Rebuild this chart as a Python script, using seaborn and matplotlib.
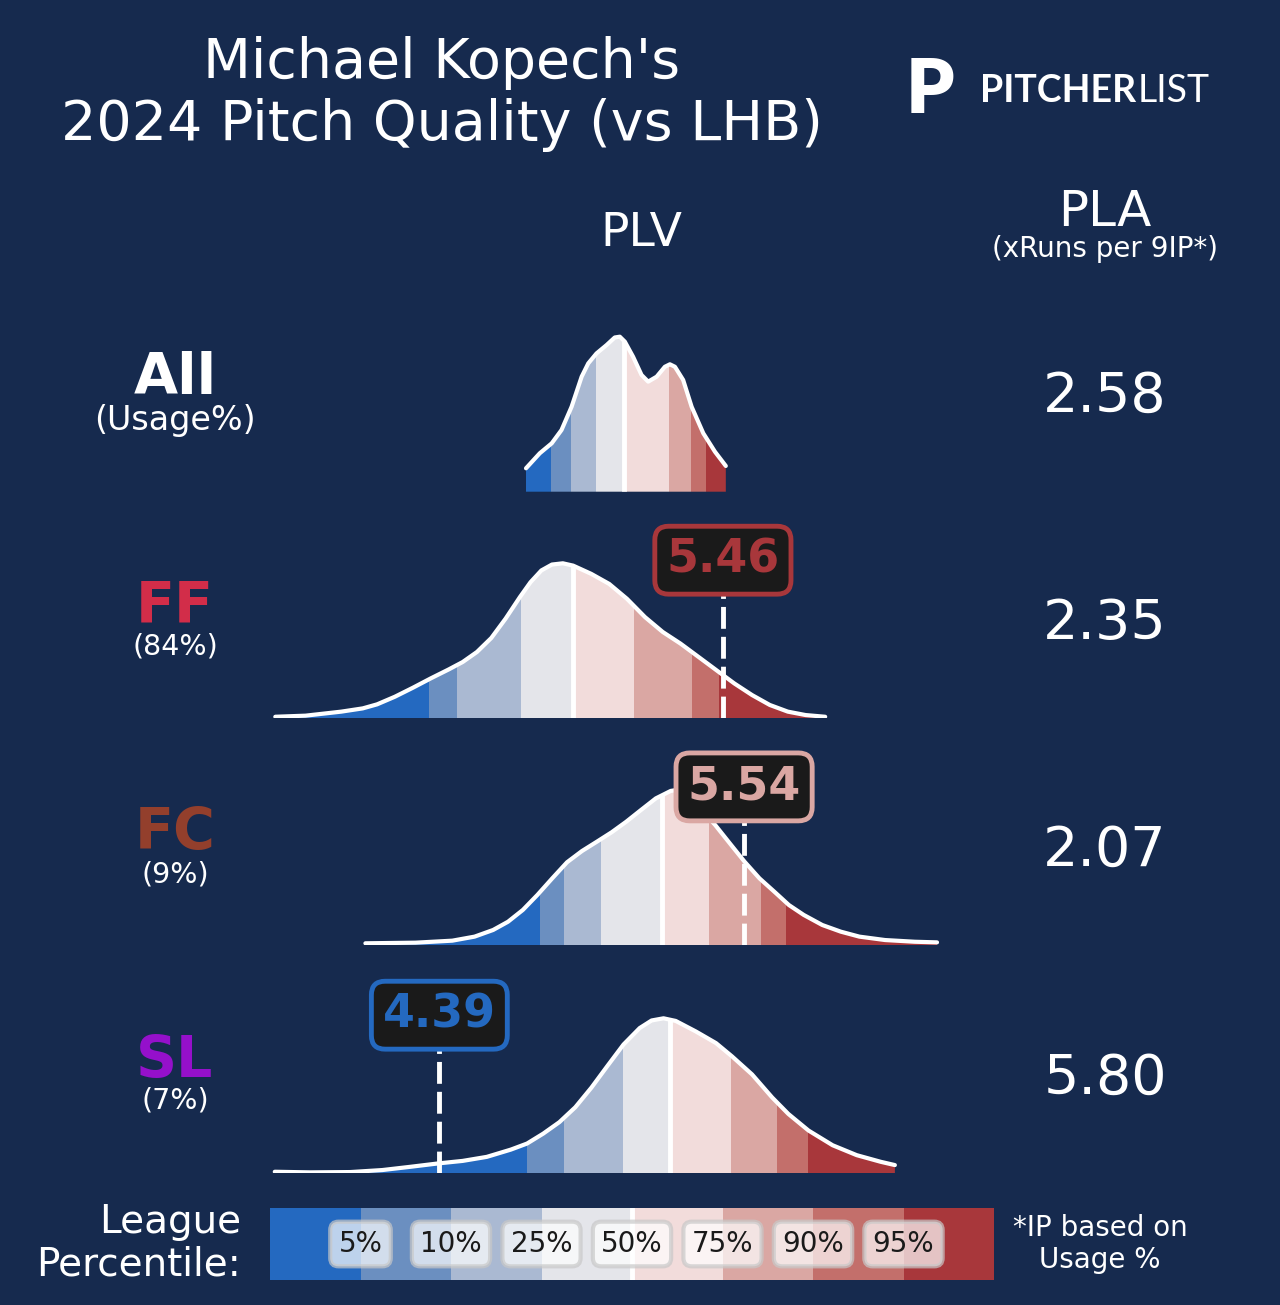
import numpy as np
import matplotlib
matplotlib.use("Agg")
import matplotlib.pyplot as plt
from matplotlib.patches import Polygon
import seaborn as sns

W, H = 1280, 1305
BG = "#162a4e"

# row info
pitch_names = ["All", "FF", "FC", "SL"]
pitch_colors = ["white", "#d22d49", "#933f2c", "#9510cb"]
usage_labels = ["(Usage%)", "(84%)", "(9%)", "(7%)"]
pla_values = [2.58, 2.35, 2.07, 5.80]
plv_values = [None, 5.46, 5.54, 4.39]

# league percentile bins
pct_labels = ["5%", "10%", "25%", "50%", "75%", "90%", "95%"]
bin_names = ["<5", "5-10", "10-25", "25-50", "50-75", "75-90", "90-95", ">95"]
bin_colors = ["#2469c0", "#6b8fc0", "#aab9d2", "#e4e5ea",
              "#f2dcdb", "#daa7a3", "#c36f6b", "#a8373b"]

# league PLV density curves (peak scaled to 1)
all_x = [4.717, 4.769, 4.814, 4.851, 4.889, 4.927, 4.952, 4.983, 5.021, 5.052, 5.071,
         5.090, 5.121, 5.153, 5.178, 5.210, 5.241, 5.260, 5.279, 5.310, 5.342, 5.386,
         5.430, 5.471]
all_y = [0.151, 0.248, 0.312, 0.398, 0.548, 0.742, 0.828, 0.892, 0.946, 0.995, 1.000,
         0.968, 0.871, 0.753, 0.710, 0.742, 0.806, 0.822, 0.806, 0.721, 0.548, 0.377,
         0.258, 0.166]
ff_x = [3.771, 3.885, 4.020, 4.101, 4.155, 4.222, 4.290, 4.357, 4.425, 4.478, 4.532,
        4.586, 4.640, 4.694, 4.734, 4.775, 4.815, 4.856, 4.895, 4.963, 5.031, 5.098,
        5.166, 5.233, 5.300, 5.368, 5.435, 5.503, 5.570, 5.637, 5.705, 5.772, 5.846]
ff_y = [0.010, 0.017, 0.043, 0.064, 0.090, 0.139, 0.197, 0.257, 0.315, 0.363, 0.428,
        0.518, 0.643, 0.782, 0.878, 0.954, 0.992, 1.000, 0.985, 0.932, 0.867, 0.771,
        0.653, 0.557, 0.482, 0.396, 0.311, 0.225, 0.150, 0.086, 0.043, 0.021, 0.010]
fc_x = [4.111, 4.300, 4.439, 4.523, 4.593, 4.649, 4.705, 4.760, 4.816, 4.872, 4.928,
        4.984, 5.040, 5.095, 5.151, 5.207, 5.263, 5.285, 5.362, 5.431, 5.486, 5.542,
        5.598, 5.654, 5.709, 5.765, 5.835, 5.905, 5.975, 6.072, 6.184, 6.268]
fc_y = [0.011, 0.015, 0.028, 0.054, 0.097, 0.150, 0.226, 0.323, 0.430, 0.534, 0.606,
        0.666, 0.727, 0.795, 0.871, 0.946, 0.994, 1.000, 0.903, 0.774, 0.656, 0.537,
        0.430, 0.344, 0.258, 0.194, 0.129, 0.086, 0.054, 0.032, 0.021, 0.017]
sl_x = [3.769, 3.902, 4.054, 4.175, 4.281, 4.387, 4.478, 4.569, 4.660, 4.721, 4.782,
        4.843, 4.903, 4.964, 5.024, 5.085, 5.146, 5.191, 5.236, 5.282, 5.358, 5.434,
        5.494, 5.570, 5.646, 5.707, 5.783, 5.874, 5.965, 6.056, 6.109]
sl_y = [0.010, 0.006, 0.008, 0.021, 0.042, 0.064, 0.080, 0.106, 0.153, 0.192, 0.256,
        0.330, 0.426, 0.553, 0.692, 0.831, 0.937, 0.986, 1.000, 0.983, 0.915, 0.840,
        0.755, 0.638, 0.489, 0.383, 0.276, 0.181, 0.117, 0.074, 0.053]

# percentile cut points (5,10,25,50,75,90,95)
all_pct = [4.810, 4.885, 4.983, 5.086, 5.257, 5.338, 5.395]
ff_pct = [4.352, 4.458, 4.698, 4.894, 5.123, 5.343, 5.446]
fc_pct = [4.771, 4.861, 5.000, 5.231, 5.409, 5.602, 5.698]
sl_pct = [4.721, 4.860, 5.082, 5.259, 5.489, 5.665, 5.782]

curves = [(all_x, all_y, all_pct), (ff_x, ff_y, ff_pct),
          (fc_x, fc_y, fc_pct), (sl_x, sl_y, sl_pct)]

sns.set_theme(style="white")
plt.rcParams["font.family"] = ["DejaVu Sans"]


def fx(px):
    return px / W


def fy(py):
    return 1 - py / H


fig = plt.figure(figsize=(W / 100, H / 100), dpi=100, facecolor=BG)

# density rows
baselines = [491.7, 718.3, 945.0, 1173.3]
peak_px = 155
for (x, y, pct), v, base in zip(curves, plv_values, baselines):
    ax = fig.add_axes([fx(270), fy(base), 724 / W, peak_px * 1.3 / H])
    ax.set_xlim(3.751, 6.483)
    ax.set_ylim(0, 1.3)
    ax.axis("off")

    verts = [(x[0], 0)] + list(zip(x, y)) + [(x[-1], 0)]
    area = Polygon(verts, closed=True, transform=ax.transData)
    edges = [x[0] - 1] + pct + [x[-1] + 1]
    for j in range(8):
        span = ax.axvspan(edges[j], edges[j + 1], color=bin_colors[j], lw=0)
        span.set_clip_path(area)
    med = ax.axvline(pct[3], color="white", lw=3.5)
    med.set_clip_path(area)
    sns.lineplot(x=x, y=y, ax=ax, color="white", lw=3.0, estimator=None)
    ax.lines[-1].set_solid_capstyle("round")
    ax.lines[-1].set_solid_joinstyle("round")

    if v is not None:
        c = bin_colors[int(np.searchsorted(pct, v))]
        ax.axvline(v, ymin=0, ymax=0.8 / 1.3, color="white", lw=3.5,
                   ls=(0, (4.5, 1.65)), zorder=5)
        ax.text(v, 1.02, f"{v:.2f}", ha="center", va="center", fontsize=33,
                fontweight="bold", color=c, zorder=10, clip_on=False,
                bbox=dict(boxstyle="round,pad=0.25,rounding_size=0.3",
                          fc="#1a1a1a", ec=c, lw=3.5))

# left labels and PLA column
label_base = [394, 622, 849, 1077]
usage_base = [430, 654, 882, 1109]
pla_base = [412, 639, 866, 1094]
for i in range(4):
    fig.text(fx(175), fy(label_base[i]), pitch_names[i], ha="center", va="baseline",
             fontsize=41, fontweight="bold", color=pitch_colors[i])
    fig.text(fx(175), fy(usage_base[i]), usage_labels[i], ha="center", va="baseline",
             fontsize=24 if i == 0 else 20.5, color="white")
    fig.text(fx(1105), fy(pla_base[i]), f"{pla_values[i]:.2f}", ha="center",
             va="baseline", fontsize=40, color="white")

# titles / headers
fig.text(fx(442), fy(78), "Michael Kopech's", ha="center", va="baseline",
         fontsize=40, color="white")
fig.text(fx(442), fy(140), "2024 Pitch Quality (vs LHB)", ha="center", va="baseline",
         fontsize=40, color="white")
fig.text(fx(641), fy(246), "PLV", ha="center", va="baseline", fontsize=34, color="white")
fig.text(fx(1105), fy(226), "PLA", ha="center", va="baseline", fontsize=36, color="white")
fig.text(fx(1105), fy(257), "(xRuns per 9IP*)", ha="center", va="baseline",
         fontsize=20, color="white")

# logo
fig.text(fx(906), fy(113), "P", ha="left", va="baseline", fontsize=55,
         fontweight="heavy", family=["Lato", "DejaVu Sans"], color="white")
t1 = fig.text(fx(980), fy(102), "PITCHER", ha="left", va="baseline", fontsize=27,
              fontweight="bold", family=["Lato", "DejaVu Sans"], color="white")
fig.canvas.draw()
bb = t1.get_window_extent()
fig.text(bb.x1 / W + 0.0015, fy(102), "LIST", ha="left", va="baseline", fontsize=27,
         fontweight="normal", family=["Lato", "DejaVu Sans"], color="white")

# legend bar
lax = fig.add_axes([fx(270), fy(1280), 724 / W, 72 / H])
sns.barplot(x=bin_names, y=[1] * 8, hue=bin_names, palette=bin_colors, width=1,
            saturation=1, legend=False, ax=lax, linewidth=0)
lax.set_xlim(-0.5, 7.5)
lax.set_ylim(0, 1)
lax.axis("off")
lax.axvline(3.5, color="white", lw=3.5)
for k, lab in enumerate(pct_labels):
    lax.text(k + 0.5, 0.5, lab, ha="center", va="center", fontsize=20, color="#1a1a1a",
             bbox=dict(boxstyle="round,pad=0.3", fc="white", ec="#c8c8c8", alpha=0.7, lw=3))

fig.text(fx(241), fy(1233), "League", ha="right", va="baseline", fontsize=28, color="white")
fig.text(fx(241), fy(1276), "Percentile:", ha="right", va="baseline", fontsize=28,
         color="white")
fig.text(fx(1100), fy(1236), "*IP based on", ha="center", va="baseline", fontsize=20,
         color="white")
fig.text(fx(1100), fy(1268), "Usage %", ha="center", va="baseline", fontsize=20,
         color="white")

fig.savefig("out.png", dpi=100, facecolor=BG)
